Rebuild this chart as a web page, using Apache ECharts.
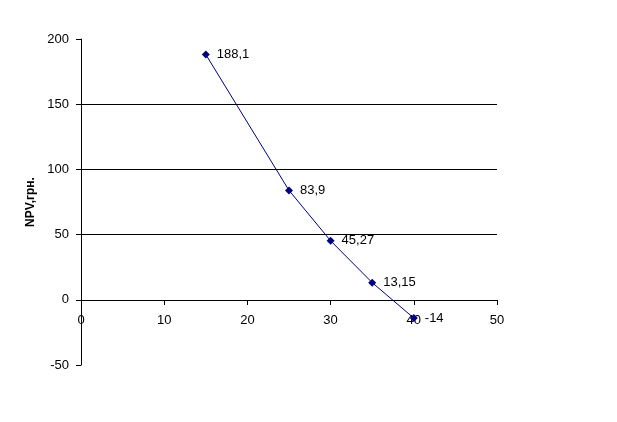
<!DOCTYPE html>
<html><head><meta charset="utf-8">
<script src="https://cdn.jsdelivr.net/npm/echarts@6/dist/echarts.min.js"></script>
<style>html,body{margin:0;padding:0;background:#fff}#c{width:617px;height:422px}</style>
</head><body><div id="c"></div>
<script>
const xValues = [15, 25, 30, 35, 40];
const npvValues = [188.1, 83.9, 45.27, 13.15, -14];
const pointLabels = ['188,1', '83,9', '45,27', '13,15', '-14'];
const gridLevels = [50, 100, 150];
const yAxisTitle = 'NPV,грн.';

const chart = echarts.init(document.getElementById('c'), null, {renderer: 'canvas'});
const font = 'Liberation Sans, Arial, sans-serif';
chart.setOption({
  animation: false,
  backgroundColor: '#fff',
  grid: {left: 81, right: 120, top: 39, bottom: 57},
  xAxis: {
    type: 'value', min: 0, max: 50, interval: 10,
    offset: -65,
    axisLine: {show: true, onZero: false, lineStyle: {color: '#000', width: 1}},
    axisTick: {show: true, length: 5, lineStyle: {color: '#000'}},
    axisLabel: {color: '#000', fontFamily: font, fontSize: 13, margin: 14, showMinLabel: true, showMaxLabel: true},
    splitLine: {show: false}
  },
  yAxis: {
    type: 'value', min: -50, max: 200, interval: 50,
    name: yAxisTitle, nameLocation: 'middle', nameGap: 43, nameRotate: 90,
    nameTextStyle: {color: '#000', fontFamily: font, fontSize: 12, fontWeight: 'bold'},
    axisLine: {show: true, onZero: false, lineStyle: {color: '#000', width: 1}},
    axisTick: {show: true, length: 5, lineStyle: {color: '#000'}},
    axisLabel: {color: '#000', fontFamily: font, fontSize: 13, margin: 12},
    splitLine: {show: false}
  },
  series: [{
    type: 'line',
    data: xValues.map((x, i) => [x, npvValues[i]]),
    symbol: 'diamond', symbolSize: 8,
    itemStyle: {color: '#000080'},
    lineStyle: {color: '#000080', width: 1},
    label: {
      show: true, position: 'right', distance: 7,
      color: '#000', fontFamily: font, fontSize: 13,
      formatter: p => pointLabels[p.dataIndex]
    },
    markLine: {
      silent: true, symbol: 'none', label: {show: false},
      lineStyle: {color: '#000', type: 'solid', width: 1},
      data: gridLevels.map(v => ({yAxis: v}))
    },
    z: 3
  }]
});
</script></body></html>
